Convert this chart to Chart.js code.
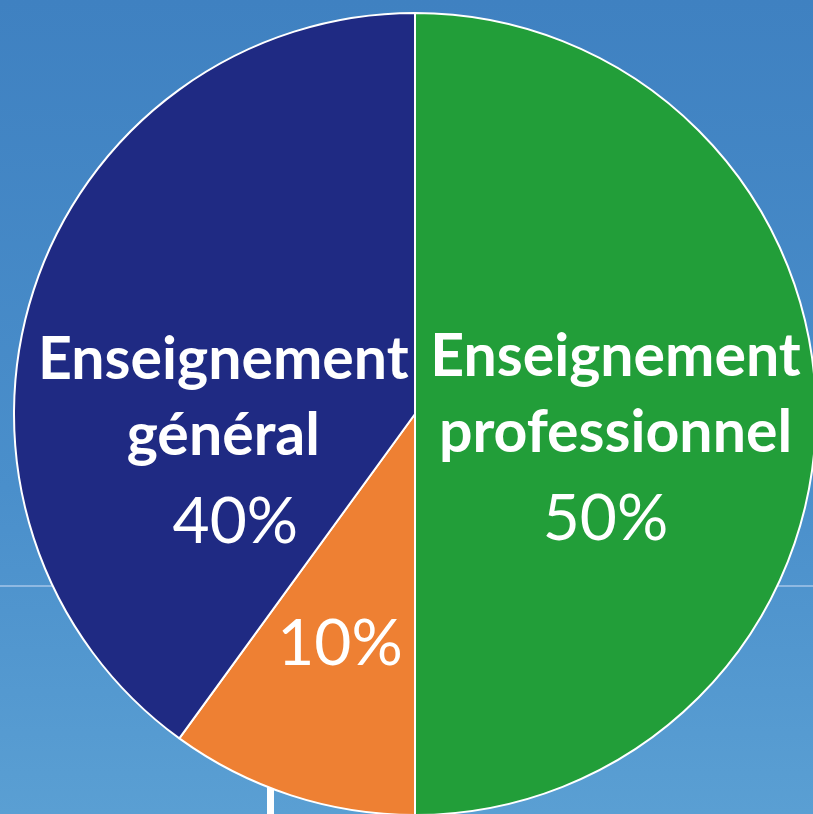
<!DOCTYPE html>
<html>
<head>
<meta charset="utf-8">
<script src="https://cdn.jsdelivr.net/npm/chart.js@4/dist/chart.umd.min.js"></script>
<style>
  html, body { margin: 0; padding: 0; }
  body {
    width: 813px; height: 814px; overflow: hidden; position: relative;
    background: linear-gradient(to bottom, #3f81c1 0%, #4a8fcb 60%, #5a9fd3 100%);
  }
  #ligne { position: absolute; left: 0; top: 585px; width: 813px; height: 2px; background: #8fb9e2; }
  #tige { position: absolute; left: 267px; top: 786px; width: 7px; height: 30px; background: #ffffff; }
  #boite { position: absolute; left: 13px; top: 12px; width: 804px; height: 804px; }
</style>
</head>
<body>
<div id="ligne"></div>
<div id="tige"></div>
<div id="boite"><canvas id="chart1"></canvas></div>
<script>
// données (ordre horaire depuis midi)
const categories = ['Enseignement professionnel', 'Autre', 'Enseignement général'];
const nomLignes = [['Enseignement', 'professionnel'], [], ['Enseignement', 'général']];
const valeurs = [50, 10, 40];
const couleurs = ['#229e39', '#ee8033', '#1f2a83'];

// position des étiquettes, en fraction du rayon, par rapport au centre
// [x nom, y premiere ligne, decalage x du pourcentage]
const ancres = [[0.5, -0.095, -0.025], [-0.187, 0.627, 0], [-0.478, -0.087, 0.03]];

const etiquettes = {
    id: 'etiquettes',
    afterDatasetsDraw(chart) {
        const ctx = chart.ctx;
        const arcs = chart.getDatasetMeta(0).data;
        ctx.save();
        ctx.fillStyle = '#ffffff';
        ctx.textAlign = 'center';
        ctx.textBaseline = 'alphabetic';
        arcs.forEach((arc, i) => {
            const r = arc.outerRadius;
            const x = arc.x + ancres[i][0] * r;
            let y = arc.y + ancres[i][1] * r;
            const lignes = nomLignes[i];
            ctx.font = 'bold 59px Lato';
            lignes.forEach((l, k) => {
                ctx.fillText(l, x, y + k * 76);
            });
            if (lignes.length) y += (lignes.length - 1) * 76 + 88;
            ctx.font = '64px Lato';
            ctx.fillText(valeurs[i] + '%', x + ancres[i][2] * r, y);
        });
        ctx.restore();
    }
};

var ctx1 = document.getElementById('chart1').getContext('2d');
var chart1 = new Chart(ctx1, {
    type: 'pie',
    data: {
        labels: categories,
        datasets: [{
            data: valeurs,
            backgroundColor: couleurs,
            borderColor: '#ffffff',
            borderWidth: 2
        }]
    },
    options: {
        responsive: true,
        maintainAspectRatio: false,
        animation: false,
        layout: { padding: 0 },
        plugins: {
            legend: { display: false },
            tooltip: { enabled: false }
        }
    },
    plugins: [etiquettes]
});
</script>
</body>
</html>
